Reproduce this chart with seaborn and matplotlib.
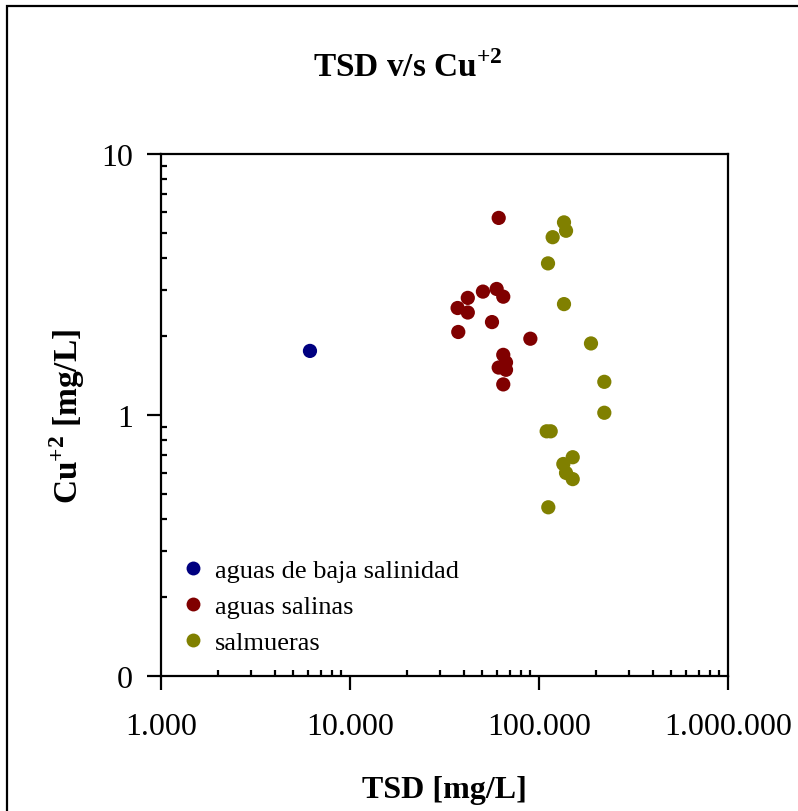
import matplotlib
matplotlib.use("Agg")
import matplotlib.pyplot as plt
import seaborn as sns
import pandas as pd
from matplotlib.ticker import FixedLocator, FixedFormatter, LogLocator, NullFormatter
from matplotlib.patches import Rectangle
from matplotlib.lines import Line2D

# ---- data ----
groups = ["aguas de baja salinidad", "aguas salinas", "salmueras"]
colors = ["#000080", "#800000", "#808000"]

baja_tsd = [6140]
baja_cu = [1.76]

salinas_tsd = [61200, 50500, 59700, 64700, 42000, 37100, 42000, 56400,
               37400, 90000, 64700, 66900, 61200, 66900, 64700]
salinas_cu = [5.69, 2.97, 3.04, 2.84, 2.81, 2.57, 2.47, 2.27,
              2.08, 1.96, 1.70, 1.59, 1.52, 1.49, 1.31]

salmueras_tsd = [135600, 139000, 118100, 111600, 135600, 188400, 221600,
                 221600, 109800, 115300, 150800, 134500, 139000, 150800, 112000]
salmueras_cu = [5.47, 5.08, 4.80, 3.81, 2.66, 1.88, 1.34,
                1.02, 0.866, 0.866, 0.689, 0.649, 0.600, 0.568, 0.443]

x_ticks = [1e3, 1e4, 1e5, 1e6]
x_tick_labels = ["1.000", "10.000", "100.000", "1.000.000"]
y_ticks = [0.1, 1, 10]
y_tick_labels = ["0", "1", "10"]

title = r"TSD v/s Cu$^{\mathbf{+2}}$"
x_label = "TSD [mg/L]"
y_label = r"Cu$^{\mathbf{+2}}$ [mg/L]"

df = pd.concat([
    pd.DataFrame({"TSD": baja_tsd, "Cu": baja_cu, "grupo": groups[0]}),
    pd.DataFrame({"TSD": salinas_tsd, "Cu": salinas_cu, "grupo": groups[1]}),
    pd.DataFrame({"TSD": salmueras_tsd, "Cu": salmueras_cu, "grupo": groups[2]}),
], ignore_index=True)

sns.set_style("white")
plt.rcParams["font.family"] = ["Liberation Serif", "DejaVu Serif"]
plt.rcParams["mathtext.fontset"] = "custom"
plt.rcParams["mathtext.rm"] = "Liberation Serif"
plt.rcParams["mathtext.bf"] = "Liberation Serif:bold"
plt.rcParams["text.color"] = "black"
plt.rcParams["axes.labelcolor"] = "black"
plt.rcParams["xtick.color"] = "black"
plt.rcParams["ytick.color"] = "black"

W, H = 798, 812
fig = plt.figure(figsize=(W / 100, H / 100), dpi=100)
fig.patch.set_facecolor("white")

# outer chart frame
fig.patches.append(Rectangle((7 / W, -0.05), 1.2, 1 - 7 / H + 0.05,
                             transform=fig.transFigure, fill=False,
                             edgecolor="black", linewidth=1.6))

ax = fig.add_axes([161 / W, 1 - 677 / H, (728 - 161) / W, (677 - 155) / H])

sns.scatterplot(data=df, x="TSD", y="Cu", hue="grupo", hue_order=groups,
                palette=colors, s=105, linewidth=0, ax=ax, legend=False)

ax.set_xscale("log")
ax.set_yscale("log")
ax.set_xlim(1e3, 1e6)
ax.set_ylim(0.1, 10)

ax.xaxis.set_major_locator(FixedLocator(x_ticks))
ax.xaxis.set_major_formatter(FixedFormatter(x_tick_labels))
ax.yaxis.set_major_locator(FixedLocator(y_ticks))
ax.yaxis.set_major_formatter(FixedFormatter(y_tick_labels))
ax.xaxis.set_minor_locator(LogLocator(base=10, subs=range(2, 10)))
ax.yaxis.set_minor_locator(LogLocator(base=10, subs=range(2, 10)))
ax.xaxis.set_minor_formatter(NullFormatter())
ax.yaxis.set_minor_formatter(NullFormatter())

ax.tick_params(axis="both", which="major", direction="out", length=10, width=1.6,
               colors="black", labelcolor="black", labelsize=23,
               bottom=True, left=True, top=False, right=False)
ax.tick_params(axis="x", which="major", pad=16)
ax.tick_params(axis="y", which="major", pad=10)
ax.tick_params(axis="both", which="minor", direction="in", length=4.5, width=1.6,
               colors="black", bottom=True, left=True, top=False, right=False)

for sp in ax.spines.values():
    sp.set_visible(True)
    sp.set_color("black")
    sp.set_linewidth(1.6)
ax.grid(False)

ax.set_xlabel(x_label, fontsize=23, fontweight="bold", color="black")
ax.set_ylabel(y_label, fontsize=24, fontweight="bold", color="black")
ax.xaxis.set_label_coords(0.5, -0.19)
ax.yaxis.set_label_coords(-0.13, 0.5)

fig.text(0.511, 1 - 68 / H, title, ha="center", va="center", fontsize=24,
         fontweight="bold", color="black")

# legend
handles = [Line2D([], [], linestyle="none", marker="o", markersize=10,
                  markerfacecolor=c, markeredgewidth=0) for c in colors]
leg = ax.legend(handles, groups, loc="upper left", bbox_to_anchor=(0.02, 0.245),
                frameon=False, fontsize=19, handlelength=0.8, handletextpad=0.4,
                labelspacing=0.47, borderaxespad=0)
for t in leg.get_texts():
    t.set_color("black")

fig.savefig("out.png", dpi=100, facecolor="white")
